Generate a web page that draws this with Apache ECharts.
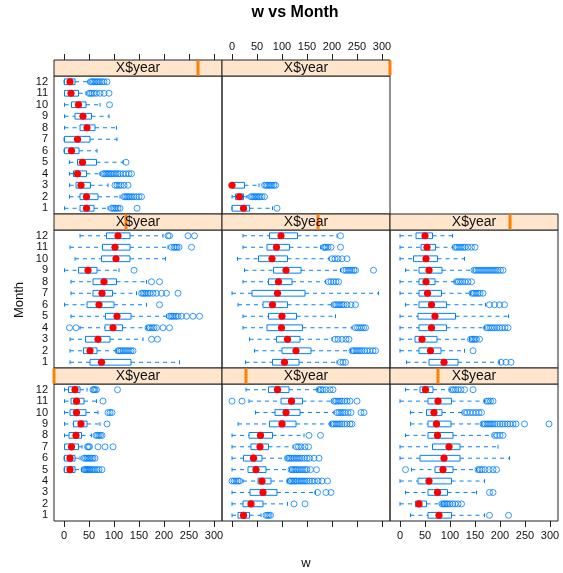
<!DOCTYPE html>
<html>
<head>
<meta charset="utf-8">
<script src="https://cdn.jsdelivr.net/npm/echarts@6/dist/echarts.min.js"></script>
<style>
  html, body { margin: 0; padding: 0; background: #fff; }
  #main { width: 563px; height: 573px; }
</style>
</head>
<body>
<div id="main"></div>
<script>
const months = ['1', '2', '3', '4', '5', '6', '7', '8', '9', '10', '11', '12'];
const xTicks = [0, 50, 100, 150, 200, 250, 300];
const yearLevels = [1, 2, 3, 4, 5, 6, 7, 8];

// [month, min, q1, median, q3, max]  -- one array per panel, panel 1 = bottom-left
const stats1 = [
  [5, 0, 1, 12, 22, 35], [6, 0, 1, 12, 22, 32], [7, 1, 1, 15, 29, 36],
  [8, 1, 10, 24, 35, 55], [9, 1, 19, 34, 46, 72], [10, 1, 12, 25, 44, 68],
  [11, 1, 14, 25, 40, 65], [12, 1, 9, 22, 32, 46]
];
const stats2 = [
  [1, 0, 12, 23, 35, 58], [2, 0, 22, 38, 62, 111], [3, 0, 36, 62, 90, 167],
  [4, 22, 52, 60, 78, 111], [5, 0, 32, 48, 68, 115], [6, 0, 23, 43, 60, 108],
  [7, 0, 38, 56, 73, 122], [8, 0, 34, 57, 81, 144], [9, 12, 75, 100, 128, 197],
  [10, 47, 86, 108, 136, 204], [11, 34, 98, 119, 141, 200], [12, 28, 73, 91, 114, 171]
];
const stats3 = [
  [1, 21, 56, 78, 103, 169], [2, 0, 31, 38, 53, 83], [3, 11, 56, 75, 95, 153],
  [4, 0, 36, 58, 103, 169], [5, 23, 70, 86, 106, 153], [6, 0, 40, 88, 120, 219],
  [7, 0, 65, 98, 120, 196], [8, 11, 56, 75, 106, 186], [9, 21, 56, 73, 102, 163],
  [10, 21, 53, 68, 84, 126], [11, 0, 56, 76, 103, 169], [12, 11, 40, 51, 66, 100]
];
const stats4 = [
  [1, 12, 52, 75, 134, 231], [2, 12, 39, 52, 66, 105], [3, 12, 43, 68, 92, 158],
  [4, 32, 82, 98, 117, 165], [5, 14, 83, 106, 134, 205], [6, 1, 46, 70, 100, 165],
  [7, 14, 58, 76, 97, 145], [8, 14, 58, 80, 105, 165], [9, 1, 29, 48, 66, 110],
  [10, 22, 75, 104, 132, 203], [11, 12, 77, 102, 132, 208], [12, 32, 85, 108, 132, 198]
];
const stats5 = [
  [1, 27, 81, 105, 134, 210], [2, 45, 100, 128, 158, 237], [3, 35, 89, 111, 136, 200],
  [4, 22, 70, 99, 141, 240], [5, 22, 73, 100, 129, 207], [6, 12, 62, 81, 111, 200],
  [7, 0, 40, 91, 146, 293], [8, 22, 73, 93, 120, 187], [9, 25, 83, 108, 138, 217],
  [10, 11, 53, 80, 111, 194], [11, 22, 70, 89, 115, 177], [12, 22, 75, 98, 131, 210]
];
const stats6 = [
  [1, 13, 58, 88, 116, 199], [2, 0, 38, 61, 82, 129], [3, 0, 30, 44, 74, 139],
  [4, 0, 38, 63, 93, 169], [5, 0, 36, 70, 111, 217], [6, 11, 38, 63, 93, 171],
  [7, 0, 38, 55, 83, 141], [8, 0, 38, 52, 70, 110], [9, 11, 38, 58, 84, 146],
  [10, 0, 27, 52, 75, 129], [11, 0, 42, 54, 71, 106], [12, 0, 32, 50, 65, 105]
];
const stats7 = [
  [1, 1, 32, 45, 60, 88], [2, 11, 32, 45, 68, 112], [3, 11, 24, 34, 53, 88],
  [4, 11, 19, 27, 45, 72], [5, 11, 27, 37, 65, 118], [6, 0, 1, 15, 30, 66],
  [7, 0, 1, 27, 52, 106], [8, 1, 32, 46, 62, 105], [9, 1, 22, 38, 55, 90],
  [10, 1, 15, 29, 44, 72], [11, 1, 1, 14, 29, 44], [12, 0, 1, 12, 22, 48]
];
const stats8 = [
  [1, 0, 0, 23, 35, 81], [2, 0, 7, 15, 23, 30], [3, 0, 0, 0, 25, 54]
];

// outliers: [month, values...]
const out1 = [
  [5, 40, 42, 44, 46, 48, 50, 52, 55, 58, 62, 66, 70, 76],
  [6, 40, 43, 46, 49, 52, 55, 58, 62],
  [7, 47, 49, 51, 68, 82, 98],
  [8, 64, 67, 70, 73, 76],
  [9, 86],
  [10, 88, 92, 96],
  [11, 78],
  [12, 58, 60, 62, 65, 107]
];
const out2 = [
  [1, 68, 71, 74, 77],
  [2, 124, 146],
  [3, 171, 188, 198],
  [4, 0, 4, 8, 12, 15, 115, 118, 121, 124, 127, 130, 134, 138, 142, 146, 150, 155, 160, 165, 172, 180, 191],
  [5, 118, 121, 124, 127, 130, 134, 138, 142, 146, 150, 157, 169],
  [6, 111, 114, 117, 120, 124, 128, 132, 136, 140, 145, 150, 155, 164, 174],
  [7, 129, 133, 138, 146, 153],
  [8, 154, 177],
  [9, 200, 204, 208, 212, 216, 220, 225, 230, 236, 240],
  [10, 210, 214, 218, 222, 226, 232, 238, 258, 264],
  [11, 0, 20, 204, 208, 212, 216, 220, 225, 230, 236, 250],
  [12, 174, 178, 182, 188, 196, 202]
];
const out3 = [
  [1, 179, 217],
  [2, 84, 87, 90, 93, 96, 100, 105, 110, 116, 123],
  [3, 179, 186],
  [5, 11, 156, 160, 164, 170, 178, 186, 193],
  [8, 189, 194, 200, 206],
  [9, 166, 170, 174, 178, 182, 186, 190, 195, 200, 205, 210, 215, 220, 226, 232, 249, 298],
  [10, 129, 134, 140, 146, 152, 158, 163],
  [11, 173, 177, 181, 186],
  [12, 103, 107, 111, 116, 122, 129, 146]
];
const out4 = [
  [2, 108, 111, 114, 118, 122, 126, 130, 134, 138],
  [3, 175, 187],
  [4, 11, 24, 168, 172, 176, 180, 185, 198, 211],
  [5, 211, 214, 217, 220, 224, 228, 235, 245, 258, 271],
  [6, 191],
  [7, 155, 158, 161, 164, 168, 172, 178, 185, 195, 205, 228],
  [8, 175, 191],
  [9, 140],
  [11, 215, 220, 223, 226, 230, 255],
  [12, 208, 211, 248, 261]
];
const out5 = [
  [1, 217, 222, 227],
  [2, 240, 244, 248, 252, 256, 260, 265, 270, 276, 282, 287],
  [3, 206, 212, 220, 228, 234],
  [4, 247, 251, 255, 259, 263, 267],
  [6, 204, 208, 212, 216, 220, 224, 230, 238, 247],
  [8, 193, 198, 203, 208, 213],
  [9, 224, 228, 232, 236, 240, 244, 247, 283],
  [10, 200, 206, 212, 220, 230],
  [11, 184, 186, 188, 192, 198, 217],
  [12, 217]
];
const out6 = [
  [1, 202, 212, 222],
  [2, 146],
  [3, 141, 144, 147, 150, 153, 159],
  [4, 173, 177, 181, 185, 189, 194, 199, 204, 210, 216],
  [6, 179, 189, 199, 209],
  [7, 144, 148, 152, 156, 160, 166],
  [8, 113, 117, 121, 125, 130, 136, 143],
  [9, 148, 152, 156, 160, 164, 168, 172, 176, 180, 184, 188, 192, 196, 201, 206],
  [11, 110, 114, 118, 122, 126, 130, 136, 143, 150]
];
const out7 = [
  [1, 95, 98, 101, 104, 108, 112, 146],
  [2, 120, 123, 126, 129, 132, 136, 140, 145, 150, 155],
  [3, 102, 106, 110, 114, 120, 128],
  [4, 78, 81, 84, 87, 90, 93, 96, 100, 104, 108, 112, 118, 124, 130, 135],
  [5, 124],
  [10, 91],
  [11, 50, 53, 56, 60, 65, 72, 80, 90],
  [12, 53, 56, 59, 62, 65, 68, 72, 76, 80, 86]
];
const out8 = [
  [1, 90],
  [2, 38, 41, 44, 47, 50, 53, 56, 60, 65],
  [3, 65, 68, 71, 74, 77, 80, 84, 87]
];

const allStats = [stats1, stats2, stats3, stats4, stats5, stats6, stats7, stats8];
const allOut = [out1, out2, out3, out4, out5, out6, out7, out8];

// layout
const colLeft = [54, 222, 390];
const rowTop = [384, 230, 76];    // row 0 = bottom
const rowH = [137, 138, 138];
const panelW = 168;
const stripH = 16;
const blue = '#0080ff';
const font = 'Liberation Sans, Arial, sans-serif';

const chart = echarts.init(document.getElementById('main'));

function renderBox(params, api) {
  const m = api.value(0);
  const lo = api.coord([api.value(1), m]);
  const q1 = api.coord([api.value(2), m]);
  const md = api.coord([api.value(3), m]);
  const q3 = api.coord([api.value(4), m]);
  const hi = api.coord([api.value(5), m]);
  const h = api.size([0, 1])[1] * 0.5;
  const y = md[1];
  const line = { stroke: blue, lineWidth: 1, lineDash: [4, 4] };
  const solid = { stroke: blue, lineWidth: 1 };
  return {
    type: 'group',
    children: [
      { type: 'line', shape: { x1: lo[0], y1: y, x2: q1[0], y2: y }, style: line },
      { type: 'line', shape: { x1: q3[0], y1: y, x2: hi[0], y2: y }, style: line },
      { type: 'line', shape: { x1: lo[0], y1: y - h / 3, x2: lo[0], y2: y + h / 3 }, style: solid },
      { type: 'line', shape: { x1: hi[0], y1: y - h / 3, x2: hi[0], y2: y + h / 3 }, style: solid },
      { type: 'rect', shape: { x: q1[0], y: y - h / 2, width: q3[0] - q1[0], height: h },
        style: { fill: 'none', stroke: blue, lineWidth: 1 } },
      { type: 'circle', shape: { cx: md[0], cy: y, r: 3.6 }, style: { fill: '#ff0000' } }
    ]
  };
}

const grids = [], xAxes = [], yAxes = [], series = [], graphics = [];

allStats.forEach((stats, i) => {
  const col = i % 3, row = Math.floor(i / 3);
  const left = colLeft[col], top = rowTop[row], h = rowH[row];
  grids.push({ left: left, top: top, width: panelW, height: h, show: true,
    borderColor: '#222', borderWidth: 1, backgroundColor: 'transparent' });

  const bottomTicks = row === 0;
  const bottomLabels = row === 0 && col !== 1;
  xAxes.push({
    type: 'value', gridIndex: i, min: -20, max: 316, position: 'bottom',
    axisLine: { show: false }, splitLine: { show: false },
    axisTick: { show: bottomTicks, length: 6, customValues: xTicks, lineStyle: { color: '#222' } },
    axisLabel: { show: bottomLabels, customValues: xTicks, fontSize: 11, color: '#111', margin: 9, fontFamily: font }
  });
  const topTicks = row === 2;
  xAxes.push({
    type: 'value', gridIndex: i, min: -20, max: 316, position: 'top', offset: stripH,
    axisLine: { show: false }, splitLine: { show: false },
    axisTick: { show: topTicks, length: 6, customValues: xTicks, lineStyle: { color: '#222' } },
    axisLabel: { show: topTicks && col === 1, customValues: xTicks, fontSize: 11, color: '#111', margin: 8, fontFamily: font }
  });
  yAxes.push({
    type: 'category', gridIndex: i, data: months,
    axisLine: { show: false }, axisTick: { show: false }, splitLine: { show: false },
    axisLabel: { show: col === 0, fontSize: 11, color: '#111', margin: 6, interval: 0, fontFamily: font }
  });

  series.push({
    type: 'custom', xAxisIndex: 2 * i, yAxisIndex: i,
    renderItem: renderBox,
    encode: { x: [1, 2, 3, 4, 5], y: 0 },
    data: stats.map(r => [r[0] - 1, r[1], r[2], r[3], r[4], r[5]]),
    z: 2
  });
  const pts = [];
  allOut[i].forEach(r => r.slice(1).forEach(v => pts.push([v, r[0] - 1])));
  series.push({
    type: 'scatter', xAxisIndex: 2 * i, yAxisIndex: i, data: pts,
    symbol: 'circle', symbolSize: 6,
    itemStyle: { color: 'transparent', borderColor: blue, borderWidth: 1 },
    z: 3
  });

  // strip
  const pos = (yearLevels[i] - 1) / (yearLevels.length - 1);
  graphics.push({ type: 'rect', z: 10, shape: { x: left, y: top - stripH, width: panelW, height: stripH },
    style: { fill: '#ffe5cc', stroke: '#222', lineWidth: 1 } });
  graphics.push({ type: 'rect', z: 11, shape: { x: left + pos * panelW - 1.5, y: top - stripH + 0.5, width: 3, height: stripH - 1 },
    style: { fill: '#ff7f00' } });
  graphics.push({ type: 'text', z: 12, x: left + panelW / 2, y: top - stripH / 2,
    style: { text: 'X$year', fill: '#111', font: '14px ' + font, align: 'center', verticalAlign: 'middle' } });
});

graphics.push({ type: 'text', x: 295, y: 13,
  style: { text: 'w vs Month', fill: '#000', font: 'bold 16px ' + font, align: 'center', verticalAlign: 'middle' } });
graphics.push({ type: 'text', x: 306, y: 563,
  style: { text: 'w', fill: '#111', font: '13px ' + font, align: 'center', verticalAlign: 'middle' } });
graphics.push({ type: 'text', x: 19, y: 300, rotation: Math.PI / 2,
  style: { text: 'Month', fill: '#111', font: '13px ' + font, align: 'center', verticalAlign: 'middle' } });

chart.setOption({
  animation: false,
  grid: grids,
  xAxis: xAxes,
  yAxis: yAxes,
  series: series,
  graphic: graphics
});
</script>
</body>
</html>
